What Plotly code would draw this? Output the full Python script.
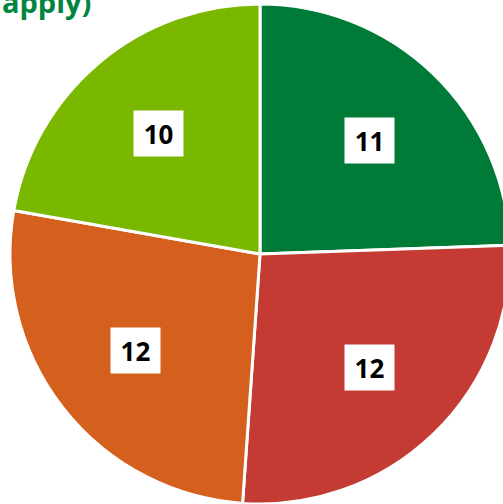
import math
import plotly.graph_objects as go

# slices, clockwise from 12 o'clock
labels = ["Option A", "Option B", "Option C", "Option D"]
values = [11, 12, 12, 10]
colors = ["#007A37", "#C43B34", "#D5601E", "#7AB800"]
title_text = "apply)"

fig = go.Figure()

fig.add_trace(go.Pie(
    labels=labels,
    values=values,
    sort=False,
    direction="clockwise",
    rotation=0,
    textinfo="none",
    hoverinfo="label+value",
    marker=dict(colors=colors, line=dict(color="white", width=3)),
    showlegend=False,
))

# boxed value labels at the middle angle of each slice
total = sum(values)
start = 0.0
annotations = []
for v in values:
    mid = (start + v / 2) / total * 2 * math.pi
    start += v
    r = 0.315
    annotations.append(dict(
        x=0.5 + r * math.sin(mid),
        y=0.5 + r * math.cos(mid),
        xref="paper", yref="paper",
        xanchor="center", yanchor="middle",
        text=f"<b>{v}</b>",
        showarrow=False,
        font=dict(family="Open Sans", size=26, color="black"),
        bgcolor="white",
        width=47, height=43,
    ))

# the title sits above the page, only its last word shows
annotations.append(dict(
    x=-0.02, y=0.962, xref="paper", yref="paper",
    xanchor="left", yanchor="bottom",
    text=f"<b>{title_text}</b>",
    showarrow=False,
    font=dict(family="Open Sans", size=29, color="#00853E"),
))

fig.update_layout(
    width=520,
    height=510,
    margin=dict(l=10, r=10, t=4, b=6),
    paper_bgcolor="white",
    plot_bgcolor="white",
    annotations=annotations,
)

fig.write_html(
    "out.html",
    config={"displayModeBar": False},
    post_script="document.body.style.margin='0';document.body.style.overflow='hidden';",
)
